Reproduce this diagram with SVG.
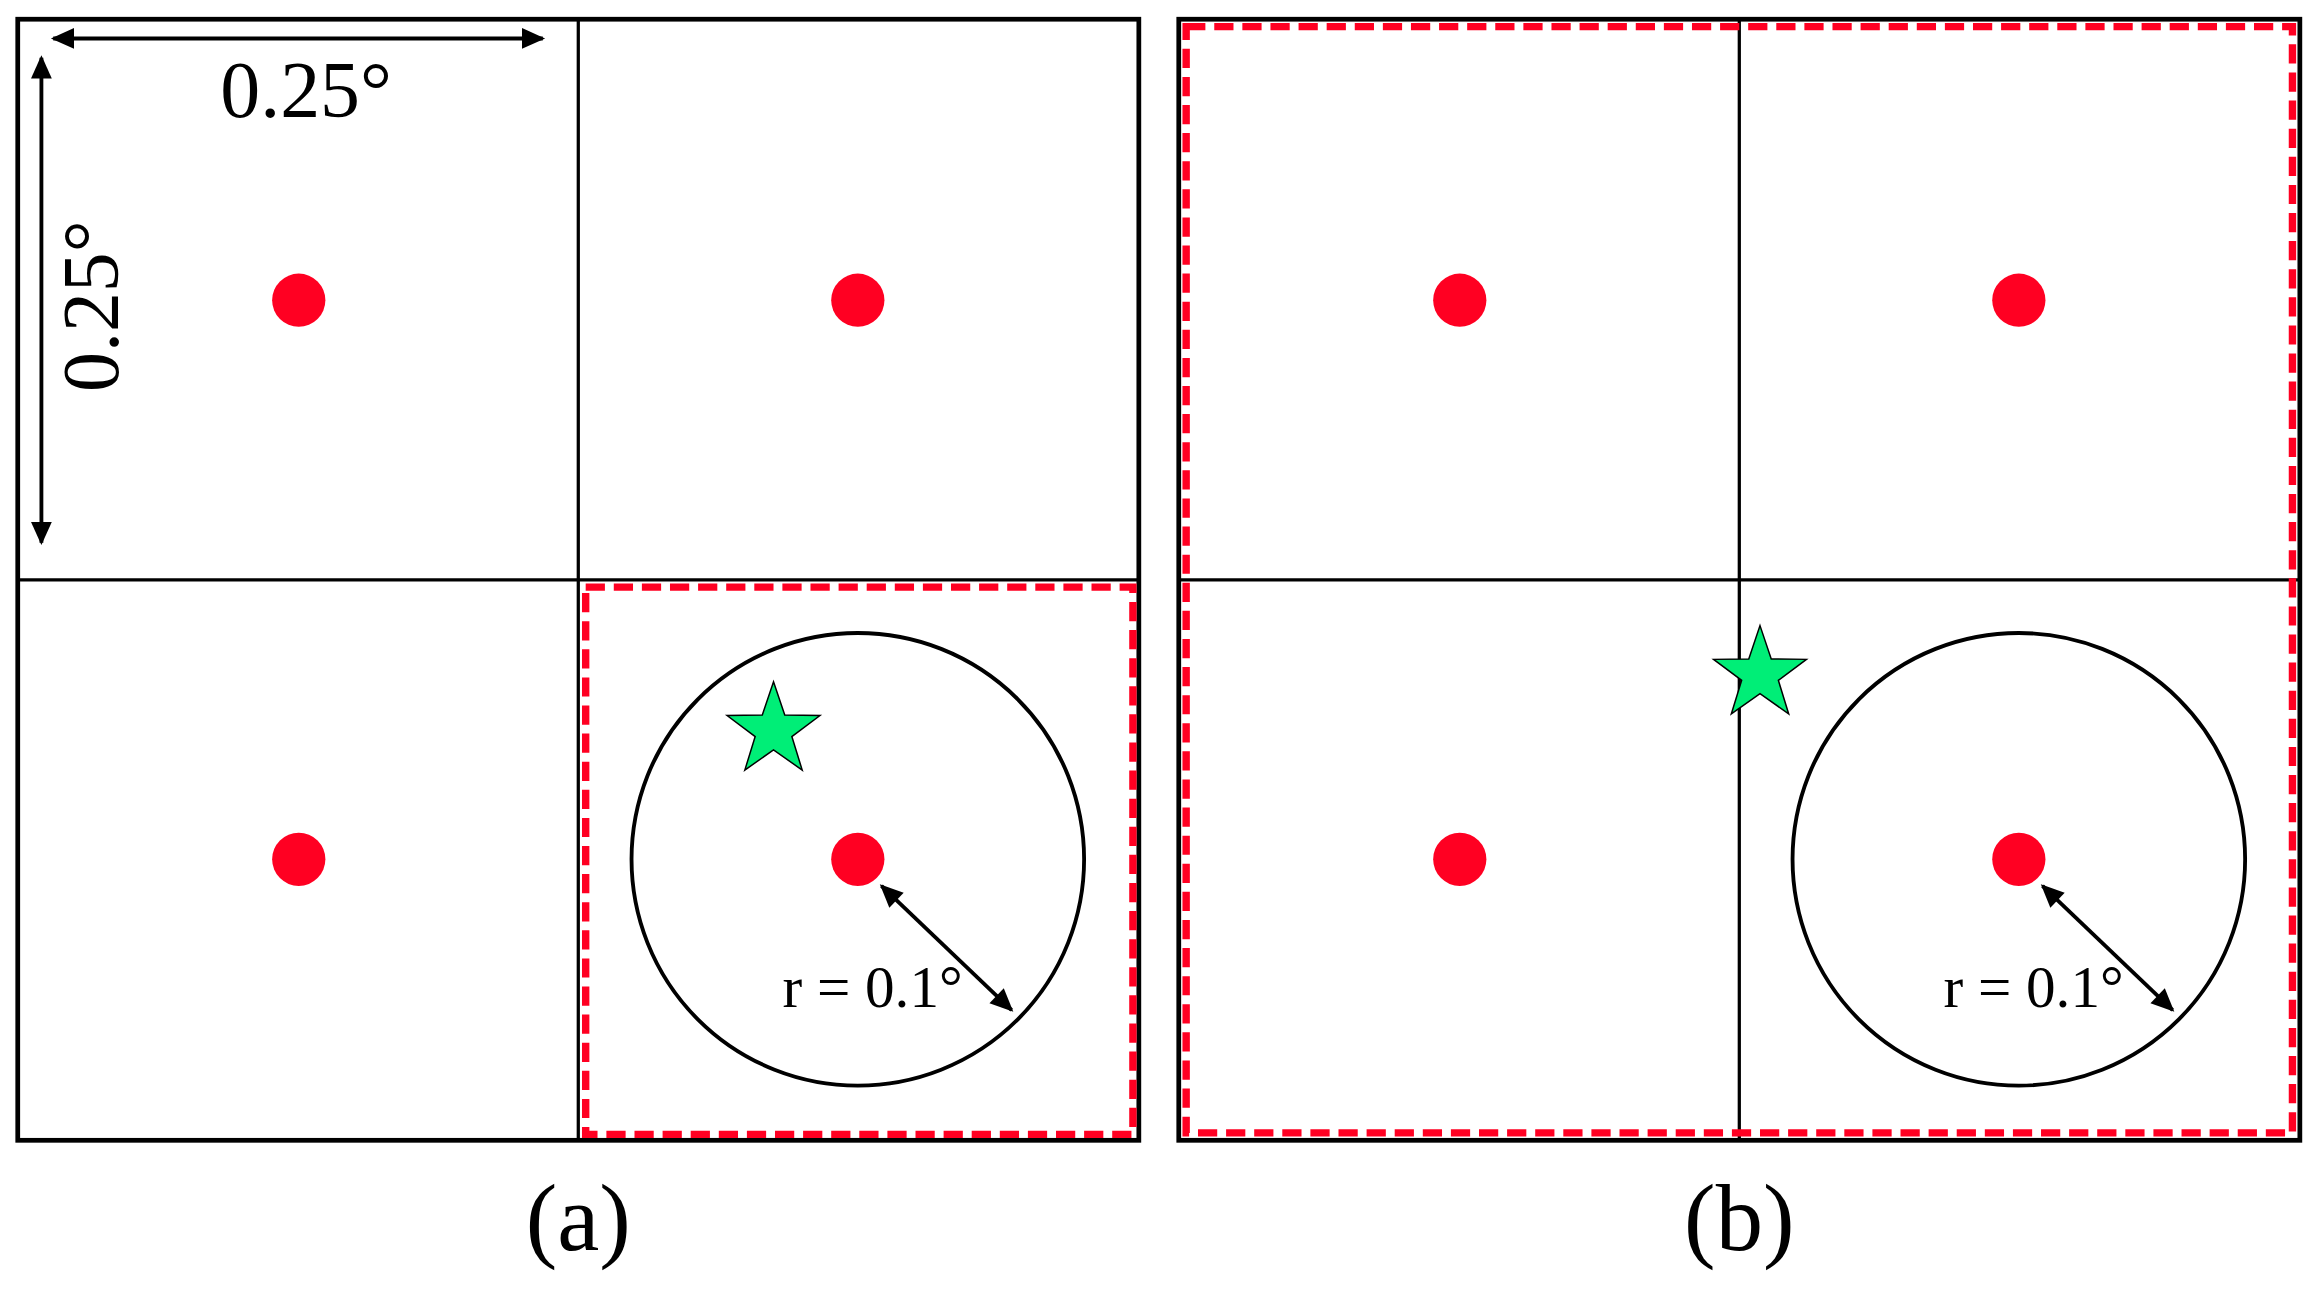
<svg xmlns="http://www.w3.org/2000/svg" width="2319" height="1299" viewBox="0 0 2319 1299">
<style>
.frame{fill:none;stroke:#000;stroke-width:3.2}
.div{stroke:#000;stroke-width:2.2}
.dash{fill:none;stroke:#ff0022;stroke-width:5;stroke-dasharray:13 6}
.dot{fill:#ff0022}
.ring{fill:none;stroke:#000;stroke-width:2.6}
.star{fill:#00ee77;stroke:#000;stroke-width:1}
.arr{stroke:#000;stroke-width:2.6;marker-start:url(#ah);marker-end:url(#ah)}
.t{font-family:'Liberation Serif','Times New Roman',serif;fill:#000}
</style>
<defs>
<marker id="ah" viewBox="0 0 10 10" refX="9" refY="5" markerWidth="7" markerHeight="6" orient="auto-start-reverse" markerUnits="strokeWidth"><path d="M0,0.5 L10,5 L0,9.5 z" fill="#000"/></marker>
<path id="starShape" d="M0,-33 L7.6,-10.5 L31.4,-10.2 L12.4,4 L19.4,26.7 L0,13 L-19.4,26.7 L-12.4,4 L-31.4,-10.2 L-7.6,-10.5 Z"/>
</defs>
<rect width="2319" height="1299" fill="#fff"/>
<g transform="scale(1.479)">
<g id="panel-a">
<rect class="frame" x="12" y="13" width="758" height="758"/>
<line class="div" x1="391" y1="13" x2="391" y2="771"/>
<line class="div" x1="12" y1="392" x2="770" y2="392"/>
<rect class="dash" x="396" y="397" width="370" height="370"/>
<circle class="dot" cx="202" cy="203" r="18"/>
<circle class="dot" cx="580" cy="203" r="18"/>
<circle class="dot" cx="202" cy="581" r="18"/>
<circle class="dot" cx="580" cy="581" r="18"/>
<circle class="ring" cx="580" cy="581" r="153"/>
<use class="star" href="#starShape" x="523" y="494"/>
<line class="arr" x1="36" y1="26" x2="367" y2="26"/>
<line class="arr" x1="28" y1="39" x2="28" y2="367"/>
<text class="t" font-family="Liberation Serif, serif" x="207" y="79" font-size="54" text-anchor="middle">0.25°</text>
<text class="t" font-family="Liberation Serif, serif" transform="translate(80,207) rotate(-90)" font-size="54" text-anchor="middle">0.25°</text>
<line class="arr" x1="596" y1="599" x2="684" y2="683"/>
<text class="t" font-family="Liberation Serif, serif" x="529" y="681" font-size="40">r = 0.1°</text>
<text class="t" font-family="Liberation Serif, serif" x="391" y="845" font-size="64" text-anchor="middle">(a)</text>
</g>
<g id="panel-b">
<rect class="frame" x="797" y="13" width="758" height="758"/>
<line class="div" x1="1176" y1="13" x2="1176" y2="771"/>
<line class="div" x1="797" y1="392" x2="1555" y2="392"/>
<rect class="dash" x="802" y="18" width="748" height="748"/>
<circle class="dot" cx="987" cy="203" r="18"/>
<circle class="dot" cx="1365" cy="203" r="18"/>
<circle class="dot" cx="987" cy="581" r="18"/>
<circle class="dot" cx="1365" cy="581" r="18"/>
<circle class="ring" cx="1365" cy="581" r="153"/>
<use class="star" href="#starShape" x="1190" y="456"/>
<line class="arr" x1="1381" y1="599" x2="1469" y2="683"/>
<text class="t" font-family="Liberation Serif, serif" x="1314" y="681" font-size="40">r = 0.1°</text>
<text class="t" font-family="Liberation Serif, serif" x="1176" y="845" font-size="64" text-anchor="middle">(b)</text>
</g>
</g>
</svg>
